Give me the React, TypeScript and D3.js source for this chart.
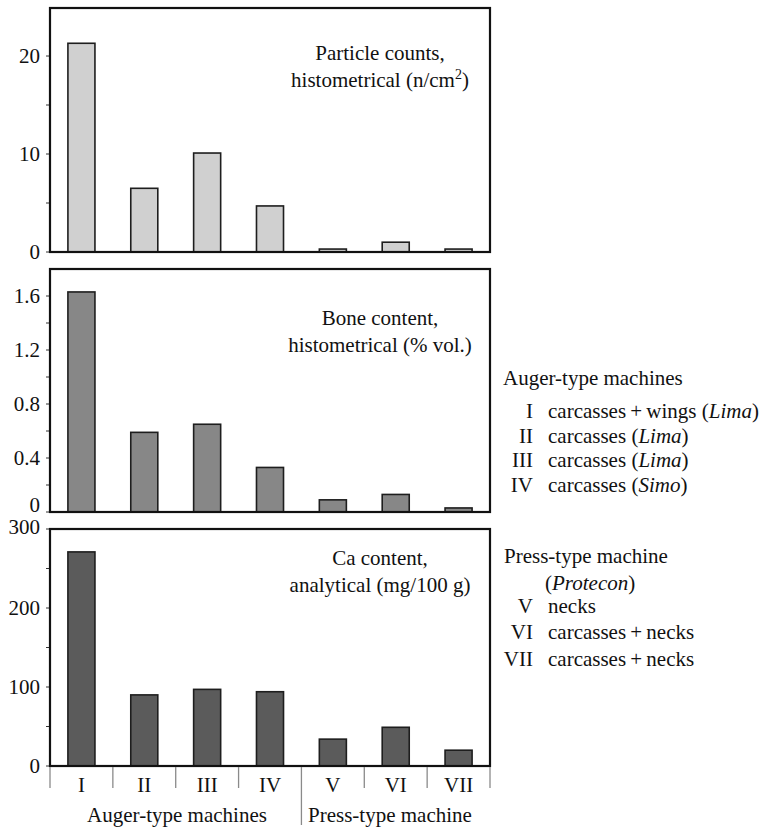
import React from "react";
import * as d3 from "d3";

const categories = ["I", "II", "III", "IV", "V", "VI", "VII"];
const particleCounts = [21.3, 6.5, 10.1, 4.7, 0.3, 1.0, 0.3];
const boneContent = [1.63, 0.59, 0.65, 0.33, 0.09, 0.13, 0.03];
const caContent = [271, 90, 97, 94, 34, 49, 20];

const p1Ticks = [0, 5, 10, 15, 20];
const p1Labels = [0, 10, 20];
const p2Ticks = [0, 0.2, 0.4, 0.6, 0.8, 1.0, 1.2, 1.4, 1.6];
const p2Labels = [0, 0.4, 0.8, 1.2, 1.6];
const p3Ticks = [0, 50, 100, 150, 200, 250, 300];
const p3Labels = [0, 100, 200, 300];

const augerLegend = [
  { num: "I", text: "carcasses\u2009+\u2009wings", maker: "Lima" },
  { num: "II", text: "carcasses", maker: "Lima" },
  { num: "III", text: "carcasses", maker: "Lima" },
  { num: "IV", text: "carcasses", maker: "Simo" },
];
const pressLegend = [
  { num: "V", text: "necks" },
  { num: "VI", text: "carcasses\u2009+\u2009necks" },
  { num: "VII", text: "carcasses\u2009+\u2009necks" },
];

const FONT = "Liberation Serif, DejaVu Serif, Times New Roman, serif";
const FS = 21;
const LEFT = 50;
const RIGHT = 490;
const TXT = 380;

const x = d3
  .scaleBand<string>()
  .domain(categories)
  .range([LEFT, RIGHT])
  .paddingInner(0.57)
  .paddingOuter(0.285);

function fmt(v: number) {
  if (v === 0) return "0";
  return Number.isInteger(v) ? String(v) : v.toFixed(1);
}

function Panel(props: {
  values: number[];
  max: number;
  top: number;
  bottom: number;
  ticks: number[];
  labels: number[];
  fill: string;
  line1: string;
  line2: React.ReactNode;
  textY: number;
  zeroShift: number;
  topShift: number;
}) {
  const { values, max, top, bottom, ticks, labels, fill, line1, line2, textY, zeroShift, topShift } = props;
  const y = d3.scaleLinear().domain([0, max]).range([bottom, top]);
  return (
    <g>
      {values.map((v, i) => (
        <rect
          key={i}
          x={x(categories[i])}
          y={y(v)}
          width={x.bandwidth()}
          height={y(0) - y(v)}
          fill={fill}
          stroke="#1e1e1e"
          strokeWidth={1.6}
        />
      ))}
      {ticks.map((t) => (
        <line key={t} x1={LEFT - 4} x2={LEFT} y1={y(t)} y2={y(t)} stroke="#333" strokeWidth={1} />
      ))}
      {labels.map((t) => (
        <text
          key={t}
          x={40}
          y={y(t) + (t === 0 ? zeroShift : t === labels[labels.length - 1] ? topShift : 0)}
          dy="0.34em"
          textAnchor="end"
          fontSize={FS}
          fill="#111"
        >
          {fmt(t)}
        </text>
      ))}
      <rect
        x={LEFT}
        y={top}
        width={RIGHT - LEFT}
        height={bottom - top}
        fill="none"
        stroke="#111"
        strokeWidth={2.2}
      />
      <text x={TXT} y={textY} textAnchor="middle" fontSize={FS} fill="#111">
        {line1}
      </text>
      <text x={TXT} y={textY + 27} textAnchor="middle" fontSize={FS} fill="#111">
        {line2}
      </text>
    </g>
  );
}

export default function App() {
  const axisY = 766;
  const step = x.step();
  const boundaries = categories.map((c) => (x(c) as number) + x.bandwidth() / 2 - step / 2);
  boundaries.push(RIGHT);
  return (
    <svg
      width={767}
      height={830}
      fontFamily={FONT}
      style={{ position: "absolute", left: 0, top: 0, background: "#fff", fontFamily: FONT }}
    >
      <rect x={0} y={0} width={767} height={830} fill="#fff" />
      <Panel
        values={particleCounts}
        max={24.9}
        top={8}
        bottom={252}
        ticks={p1Ticks}
        labels={p1Labels}
        fill="#d0d0d0"
        line1="Particle counts,"
        line2={
          <>
            histometrical (n/cm
            <tspan fontSize={14} dy={-8}>2</tspan>
            <tspan dy={8}>)</tspan>
          </>
        }
        textY={60}
        zeroShift={0}
        topShift={0}
      />
      <Panel
        values={boneContent}
        max={1.8}
        top={269}
        bottom={512}
        ticks={p2Ticks}
        labels={p2Labels}
        fill="#878787"
        line1="Bone content,"
        line2="histometrical (% vol.)"
        textY={325}
        zeroShift={-7}
        topShift={0}
      />
      <Panel
        values={caContent}
        max={300}
        top={529}
        bottom={axisY}
        ticks={p3Ticks}
        labels={p3Labels}
        fill="#5b5b5b"
        line1="Ca content,"
        line2="analytical (mg/100 g)"
        textY={565}
        zeroShift={0}
        topShift={-2}
      />
      {boundaries.map((b, i) => (
        <line
          key={i}
          x1={b}
          x2={b}
          y1={axisY + 1}
          y2={i === 4 ? 825 : 788}
          stroke="#8a8a8a"
          strokeWidth={1.3}
        />
      ))}
      {categories.map((c) => (
        <text
          key={c}
          x={(x(c) as number) + x.bandwidth() / 2}
          y={792}
          textAnchor="middle"
          fontSize={FS}
          fill="#111"
        >
          {c}
        </text>
      ))}
      <text x={177} y={822} textAnchor="middle" fontSize={FS} fill="#111">
        Auger-type machines
      </text>
      <text x={308} y={822} textAnchor="start" fontSize={FS} fill="#111">
        Press-type machine
      </text>

      <text x={503} y={385} fontSize={FS} fill="#111">
        Auger-type machines
      </text>
      {augerLegend.map((d, i) => (
        <g key={d.num}>
          <text x={533} y={418 + i * 24.5} textAnchor="end" fontSize={FS} fill="#111">
            {d.num}
          </text>
          <text x={548} y={418 + i * 24.5} fontSize={FS} fill="#111">
            {d.text} (<tspan fontStyle="italic">{d.maker}</tspan>)
          </text>
        </g>
      ))}
      <text x={504} y={563} fontSize={FS} fill="#111">
        Press-type machine
      </text>
      <text x={545} y={590} fontSize={FS} fill="#111">
        (<tspan fontStyle="italic">Protecon</tspan>)
      </text>
      {pressLegend.map((d, i) => (
        <g key={d.num}>
          <text x={533} y={613 + i * 26.3} textAnchor="end" fontSize={FS} fill="#111">
            {d.num}
          </text>
          <text x={548} y={613 + i * 26.3} fontSize={FS} fill="#111">
            {d.text}
          </text>
        </g>
      ))}
    </svg>
  );
}
